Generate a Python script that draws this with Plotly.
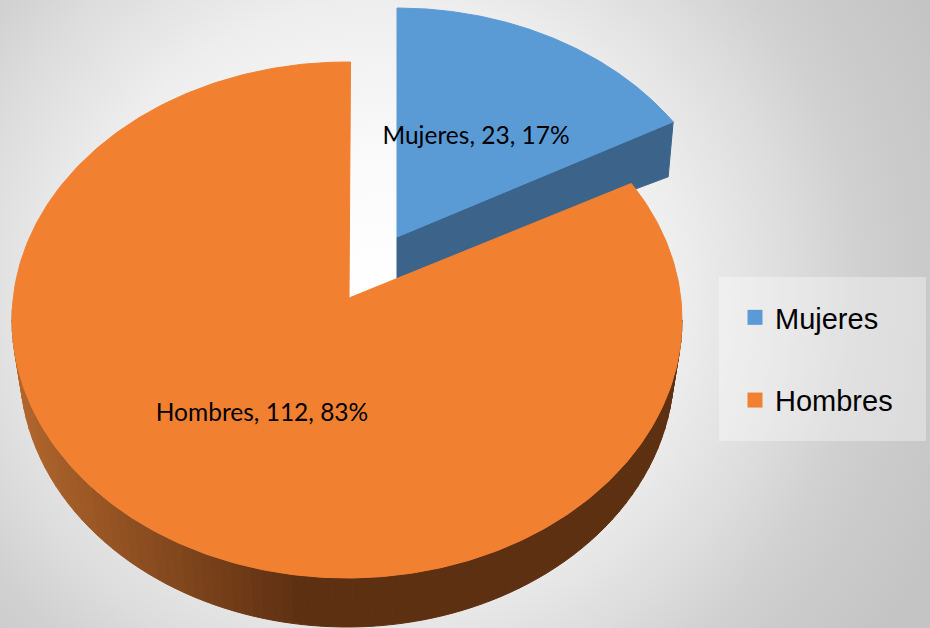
import math
import plotly.graph_objects as go

categories = ["Mujeres", "Hombres"]
values = [23, 112]
colors = ["#5B9BD5", "#F28031"]

total = sum(values)
W, H = 930, 628


def rim(cx, cy, rx, ry, a, skew):
    # angle clockwise from the top, with the foreshortening of the tilted pie
    t = math.radians(a)
    t = t - math.radians(skew) * math.sin(2 * t)
    return cx + rx * math.sin(t), cy - ry * math.cos(t)


def arc(cx, cy, rx, ry, a0, a1, skew, n=240):
    return [rim(cx, cy, rx, ry, a0 + (a1 - a0) * i / n, skew) for i in range(n + 1)]


def poly(pts, color, line=0):
    return go.Scatter(
        x=[p[0] for p in pts] + [pts[0][0]],
        y=[p[1] for p in pts] + [pts[0][1]],
        mode="lines",
        fill="toself",
        fillcolor=color,
        line=dict(color=color, width=line),
        hoverinfo="skip",
        showlegend=False,
    )


def lerp(a, b, f):
    return tuple(round(a[i] + (b[i] - a[i]) * f) for i in range(3))


split = 360 * values[0] / total
fig = go.Figure()

# exploded slice: wall, then top
b_top = (397, 266, 333, 258)
b_apex, b_drop = (397, 237), 41
e = rim(*b_top, split, 6.3)
fig.add_trace(poly([b_apex, e, (e[0] - 5, e[1] + 55), (b_apex[0], b_apex[1] + b_drop)], "#3C648B", 1))
fig.add_trace(poly([b_apex] + arc(*b_top, 0, split, 6.3), colors[0], 1))

# large slice: curved wall in shaded strips, then top
o_top = (347, 320, 335, 258)
o_bot = (347, 368, 327, 259)
steps = 90
for i in range(steps):
    a0 = 90 + (272 - 90) * i / steps
    a1 = 90 + (272 - 90) * (i + 1) / steps
    upper = arc(*o_top, a0, a1, 3.9, 3)
    lower = arc(*o_bot, a0, a1, 3.9, 3)
    xm = (upper[0][0] + lower[0][0]) / 2
    f = max(0.0, min(1.0, (xm - 20) / 280))
    c = lerp((178, 102, 44), (94, 48, 18), f)
    fig.add_trace(poly(upper + lower[::-1], f"rgb{c}", 1))
o_apex = (349, 298)
fig.add_trace(poly([o_apex] + arc(*o_top, split, 360.7, 3.9, 360), colors[1], 1))

# data labels
fig.add_trace(go.Scatter(
    x=[476, 262], y=[138, 415], mode="text",
    text=[f"{c}, {v}, {round(100 * v / total)}%" for c, v in zip(categories, values)],
    textfont=dict(family="Lato", size=24.5, color="#000000"),
    textposition="middle center", hoverinfo="skip", showlegend=False,
))

# legend entries
for c, col in zip(categories, colors):
    fig.add_trace(go.Scatter(
        x=[None], y=[None], mode="markers", name=c, legendgroup=c,
        marker=dict(symbol="square", size=15, color=col),
    ))

fig.update_layout(
    width=W, height=H,
    margin=dict(l=0, r=0, t=0, b=0),
    paper_bgcolor="rgba(0,0,0,0)",
    plot_bgcolor="rgba(0,0,0,0)",
    xaxis=dict(range=[0, W], visible=False, fixedrange=True),
    yaxis=dict(range=[H, 0], visible=False, fixedrange=True),
    legend=dict(
        x=735 / W, y=1 - 292 / H, xanchor="left", yanchor="top",
        bgcolor="rgba(0,0,0,0)",
        font=dict(family="Liberation Sans", size=29, color="#000000"),
        tracegroupgap=42,
    ),
    shapes=[dict(
        type="rect", xref="x", yref="y", x0=719, x1=926, y0=277, y1=441,
        fillcolor="rgba(255,255,255,0.35)", line=dict(width=0), layer="below",
    )],
    showlegend=True,
)

post = """
document.body.style.margin='0';
var gd=document.getElementsByClassName('plotly-graph-div')[0];
gd.style.background='radial-gradient(ellipse 620px 600px at 380px 290px,#ffffff 0%,#fbfbfb 20%,#eeeeee 48%,#dcdcdc 67%,#d0d0d0 78%,#c9c9c9 89%,#c4c4c4 100%)';
"""
fig.write_html("out.html", post_script=post, config={"displayModeBar": False})
